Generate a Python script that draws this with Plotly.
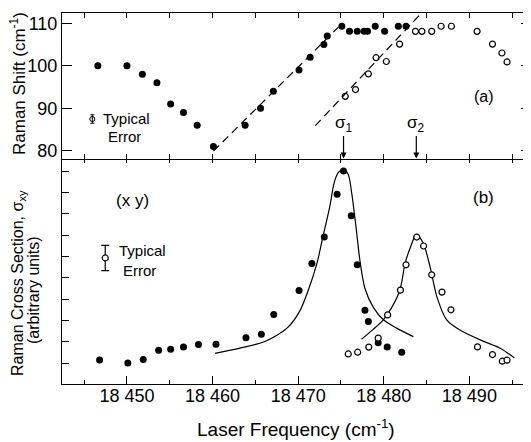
import plotly.graph_objects as go

# ---------------- data ----------------
# Panel (a): Raman shift vs laser frequency
top_filled_f = [18446.6, 18450.0, 18451.8, 18453.5, 18455.1, 18456.6, 18458.2, 18460.1,
                18463.8, 18465.6, 18467.1, 18470.1, 18471.4, 18473.0, 18473.4, 18475.1,
                18476.0, 18476.9, 18477.7, 18478.1, 18479.0, 18480.1, 18481.7, 18482.6]
top_filled_shift = [100, 100, 98, 96, 91, 89, 86, 81,
                    86, 90, 94, 99, 102, 105, 107, 109.3,
                    108.1, 108.1, 108.1, 108.1, 109.3, 108.1, 109.3, 109.3]

top_open_f = [18475.5, 18476.7, 18478.2, 18479.1, 18480.3, 18481.85, 18483.7, 18484.45,
              18485.6, 18486.7, 18487.9, 18490.9, 18492.7, 18493.8, 18494.4]
top_open_shift = [92.8, 94.4, 98.1, 101.9, 101.0, 105.1, 108.1, 108.1,
                  108.1, 109.3, 109.3, 108.1, 105.1, 103.0, 100.9]

dash1_f = [18460.1, 18474.7]
dash1_shift = [79.9, 109.1]
dash2_f = [18472.0, 18484.4]
dash2_shift = [85.9, 112.4]

# Panel (b): Raman cross section (arbitrary units)
bot_filled_f = [18446.8, 18450.1, 18451.9, 18453.7, 18455.1, 18456.6, 18458.35, 18460.4,
                18463.9, 18465.7, 18467.15, 18470.1, 18471.6, 18473.05, 18474.55, 18475.3,
                18476.2, 18476.9, 18477.8, 18478.2, 18479.35, 18480.4, 18482.1]
bot_filled_v = [1.15, 1.01, 1.17, 1.60, 1.65, 1.76, 1.87, 1.88,
                2.19, 2.35, 3.28, 4.40, 5.67, 6.91, 8.92, 10.01,
                7.91, 5.61, 3.48, 2.95, 1.96, 1.75, 1.51]

bot_open_f = [18475.85, 18476.95, 18478.25, 18479.35, 18480.45, 18481.95, 18482.6, 18483.85,
              18484.65, 18485.6, 18486.8, 18487.85, 18490.95, 18492.7, 18493.85, 18494.4]
bot_open_v = [1.43, 1.51, 1.75, 2.17, 3.26, 4.42, 5.61, 6.91,
              6.49, 5.14, 4.33, 3.50, 1.76, 1.40, 1.09, 1.14]

fit1_f = [18460.3, 18463.2, 18466.1, 18468.7, 18470.2, 18471.2, 18472.2, 18472.9, 18473.7,
          18474.2, 18474.7, 18475.3, 18475.85, 18476.25, 18476.75, 18477.2, 18477.8,
          18478.8, 18479.95, 18481.5, 18483.45]
fit1_v = [1.46, 1.70, 2.01, 2.64, 3.45, 4.44, 5.69, 6.94, 8.35,
          9.45, 9.94, 10.07, 9.84, 8.98, 7.41, 5.85, 4.5,
          3.6, 3.03, 2.64, 2.24]

fit2_f = [18477.4, 18478.7, 18479.95, 18481.1, 18481.9, 18482.5, 18483.15, 18483.8,
          18484.6, 18485.4, 18486.2, 18487.35, 18489.1, 18491.6, 18493.6, 18495.25]
fit2_v = [2.12, 2.56, 3.03, 3.73, 4.44, 5.69, 6.47, 7.02,
          6.63, 5.53, 4.12, 3.03, 2.5, 2.03, 1.70, 1.25]

# "Typical error" markers
err_top_f = [18445.95]
err_top_shift = [87.46]
err_top_size = [1.0]
err_bot_f = [18447.46]
err_bot_v = [5.93]
err_bot_size = [0.59]

sigma_labels = ["σ<sub>1</sub>", "σ<sub>2</sub>"]
sigma_pos = [18475.3, 18483.8]

x_tickvals = [18450, 18460, 18470, 18480, 18490]
x_ticktext = ["18 450", "18 460", "18 470", "18 480", "18 490"]
x_minor = [18445, 18455, 18465, 18475, 18485, 18495]
x_all5 = [18445, 18450, 18455, 18460, 18465, 18470, 18475, 18480, 18485, 18490, 18495]
top_yticks = [80, 90, 100, 110]
bot_yticks = [1, 2, 3, 4, 5, 6, 7, 8, 9, 10]

# ---------------- figure ----------------
# The page body has an 8px default margin, so the figure is sized 8px smaller
# to land the plot area where the reference has it inside the 531x442 window.
FONT = "Liberation Sans"
BLK = "black"
fig = go.Figure()

filled = dict(symbol="circle", size=7, color=BLK)
opened = dict(symbol="circle-open", size=6, color=BLK, line=dict(width=1.2, color=BLK))

# top panel
fig.add_trace(go.Scatter(x=dash1_f, y=dash1_shift, mode="lines", xaxis="x2", yaxis="y2",
                         line=dict(color=BLK, width=1.2, dash="8px,5px")))
fig.add_trace(go.Scatter(x=dash2_f, y=dash2_shift, mode="lines", xaxis="x2", yaxis="y2",
                         line=dict(color=BLK, width=1.2, dash="8px,5px")))
fig.add_trace(go.Scatter(x=top_filled_f, y=top_filled_shift, mode="markers",
                         xaxis="x2", yaxis="y2", marker=filled))
fig.add_trace(go.Scatter(x=top_open_f, y=top_open_shift, mode="markers",
                         xaxis="x2", yaxis="y2", marker=opened))
fig.add_trace(go.Scatter(x=err_top_f, y=err_top_shift, mode="markers", xaxis="x2", yaxis="y2",
                         marker=dict(symbol="circle-open", size=5, color=BLK, line=dict(width=1, color=BLK)),
                         error_y=dict(type="data", array=err_top_size, color=BLK, thickness=1, width=2)))

# bottom panel
fig.add_trace(go.Scatter(x=fit1_f, y=fit1_v, mode="lines", xaxis="x", yaxis="y",
                         line=dict(color=BLK, width=1.2, shape="spline", smoothing=0.8)))
fig.add_trace(go.Scatter(x=fit2_f, y=fit2_v, mode="lines", xaxis="x", yaxis="y",
                         line=dict(color=BLK, width=1.2, shape="spline", smoothing=0.8)))
fig.add_trace(go.Scatter(x=bot_filled_f, y=bot_filled_v, mode="markers",
                         xaxis="x", yaxis="y", marker=filled))
fig.add_trace(go.Scatter(x=bot_open_f, y=bot_open_v, mode="markers",
                         xaxis="x", yaxis="y", marker=dict(symbol="circle", size=6, color="white",
                                                           line=dict(width=1.2, color=BLK))))
fig.add_trace(go.Scatter(x=err_bot_f, y=err_bot_v, mode="markers", xaxis="x", yaxis="y",
                         marker=dict(symbol="circle", size=6, color="white", line=dict(width=1.2, color=BLK)),
                         error_y=dict(type="data", array=err_bot_size, color=BLK, thickness=1.2, width=4)))
# empty trace that registers the tick-only axis along the shared boundary
fig.add_trace(go.Scatter(x=[], y=[], xaxis="x3", yaxis="y", mode="markers", hoverinfo="skip"))

SPLIT = 225 / 371
axis_common = dict(linecolor=BLK, linewidth=1, showgrid=False, zeroline=False,
                   ticks="inside", tickcolor=BLK, tickwidth=1.2)

fig.update_layout(
    width=523, height=434,
    margin=dict(l=54, r=0, t=5, b=58),
    plot_bgcolor="white", paper_bgcolor="white",
    showlegend=False,
    font=dict(family=FONT, size=18, color=BLK),
    xaxis=dict(**axis_common, showline=True, domain=[0, 1], range=[18442.41, 18497.2], anchor="y",
               tickmode="array", tickvals=x_tickvals, ticktext=x_ticktext, ticklen=8,
               mirror=False, tickfont=dict(size=18, family=FONT), ticklabelstandoff=-5,
               minor=dict(tickmode="array", tickvals=x_minor, ticks="inside", ticklen=4,
                          tickcolor=BLK, tickwidth=1.2)),
    xaxis2=dict(**axis_common, showline=True, domain=[0, 1], matches="x", anchor="y2",
                tickmode="array", tickvals=x_all5, showticklabels=False, ticklen=5,
                mirror="ticks"),
    xaxis3=dict(**axis_common, showline=False, matches="x", overlaying="x", anchor="y",
                side="top", tickmode="array", tickvals=x_all5, showticklabels=False,
                ticklen=4),
    yaxis=dict(**axis_common, showline=True, domain=[0, SPLIT], range=[0.02, 10.57], anchor="x",
               tickmode="array", tickvals=bot_yticks, showticklabels=False, ticklen=7),
    yaxis2=dict(**axis_common, showline=True, domain=[SPLIT, 1], range=[78.05, 112.42], anchor="x2",
                tickmode="array", tickvals=top_yticks, ticklen=10, mirror="ticks",
                tickfont=dict(size=18, family=FONT)),
)

ann = []
# axis titles
ann.append(dict(text="Laser Frequency (cm<sup>-1</sup>)", xref="paper", yref="paper",
                x=(295.5 - 62) / 469, y=(384 - 427.5) / 371, showarrow=False,
                font=dict(size=19), xanchor="center", yanchor="middle"))
ann.append(dict(text="Raman Shift (cm<sup>-1</sup>)", xref="paper", yref="paper",
                x=(18 - 62) / 469, y=(384 - 84) / 371, showarrow=False, textangle=-90,
                font=dict(size=17), xanchor="center", yanchor="middle"))
ann.append(dict(text="Raman Cross Section, σ<sub>xy</sub>", xref="paper", yref="paper",
                x=(18 - 62) / 469, y=(384 - 283) / 371, showarrow=False, textangle=-90,
                font=dict(size=16), xanchor="center", yanchor="middle"))
ann.append(dict(text="(arbitrary units)", xref="paper", yref="paper",
                x=(33 - 62) / 469, y=(384 - 290) / 371, showarrow=False, textangle=-90,
                font=dict(size=16), xanchor="center", yanchor="middle"))

# panel labels
ann.append(dict(text="(a)", xref="x2", yref="y2", x=18491.74, y=92.77, showarrow=False,
                font=dict(size=16)))
ann.append(dict(text="(b)", xref="x", yref="y", x=18491.6, y=8.78, showarrow=False,
                font=dict(size=17)))
ann.append(dict(text="(x y)", xref="x", yref="y", x=18450.7, y=8.62, showarrow=False,
                font=dict(size=17)))

# typical error labels
ann.append(dict(text="Typical", xref="x2", yref="y2", x=18447.0, y=87.53, showarrow=False,
                xanchor="left", font=dict(size=15)))
ann.append(dict(text="Error", xref="x2", yref="y2", x=18447.6, y=83.38, showarrow=False,
                xanchor="left", font=dict(size=15)))
ann.append(dict(text="Typical", xref="x", yref="y", x=18448.8, y=6.27, showarrow=False,
                xanchor="left", font=dict(size=15)))
ann.append(dict(text="Error", xref="x", yref="y", x=18449.3, y=5.33, showarrow=False,
                xanchor="left", font=dict(size=15)))

# sigma labels with arrows pointing to the axis
for lab, pos in zip(sigma_labels, sigma_pos):
    ann.append(dict(text=lab, x=pos, y=78.15, xref="x2", yref="y2",
                    ax=pos, ay=86.4, axref="x2", ayref="y2",
                    showarrow=True, arrowhead=2, arrowsize=1, arrowwidth=1.2, arrowcolor=BLK,
                    font=dict(size=17)))

fig.update_layout(annotations=ann)
fig.write_html("out.html")
